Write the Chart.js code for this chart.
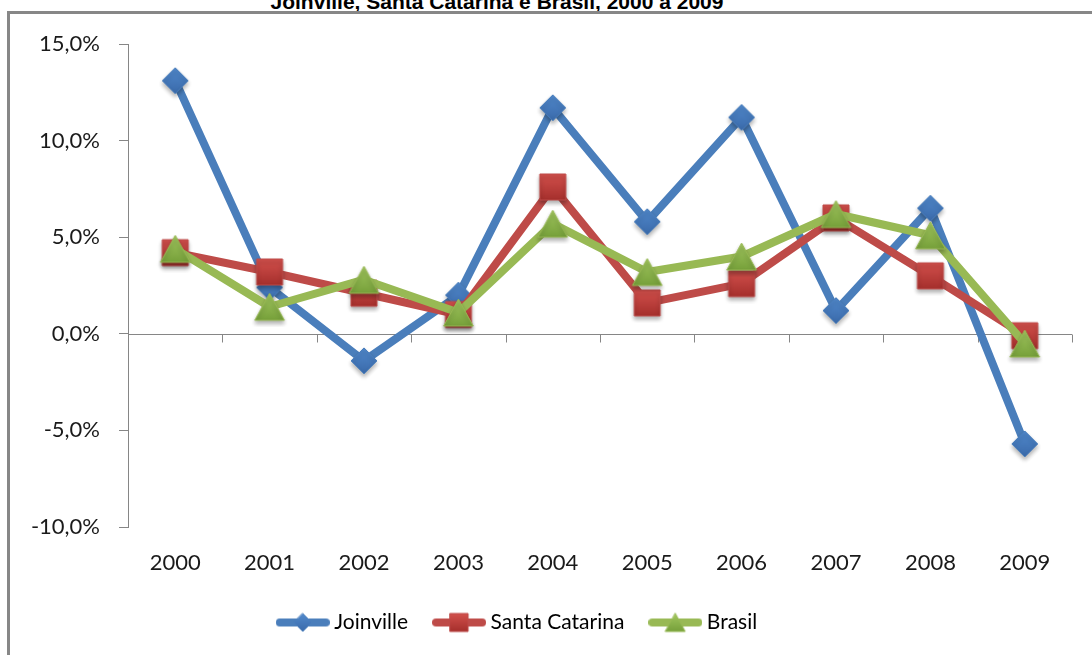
<!DOCTYPE html>
<html>
<head>
<meta charset="utf-8">
<title>Joinville, Santa Catarina e Brasil, 2000 a 2009</title>
<script src="https://cdn.jsdelivr.net/npm/chart.js@4.4.0/dist/chart.umd.min.js"></script>
<style>
    html, body { margin: 0; padding: 0; background: #fff; overflow: hidden; }
    #wrap { position: relative; width: 1092px; height: 655px; }
    #titulo {
        position: absolute; left: 0; top: -10px; width: 994px;
        text-align: center; white-space: nowrap; color: #000;
        font: bold 21px "Liberation Sans", Arial, sans-serif;
    }
    #borda {
        position: absolute; left: 7px; top: 11px; right: 0; bottom: 0;
        border-left: 3px solid #878787; border-top: 3px solid #878787;
    }
    canvas { position: absolute; left: 0; top: 0; }
</style>
</head>
<body>
<div id="wrap">
    <div id="titulo">Joinville, Santa Catarina e Brasil, 2000 a 2009</div>
    <div id="borda"></div>
    <canvas id="grafico" width="1092" height="655"></canvas>
</div>
<script>
// Dados (% ao ano)
const anos = ['2000', '2001', '2002', '2003', '2004', '2005', '2006', '2007', '2008', '2009'];
const joinville = [13.1, 2.4, -1.4, 2.0, 11.7, 5.8, 11.2, 1.2, 6.5, -5.7];
const santaCatarina = [4.2, 3.2, 2.1, 1.0, 7.6, 1.6, 2.6, 6.0, 3.0, -0.1];
const brasil = [4.4, 1.4, 2.8, 1.1, 5.7, 3.2, 4.0, 6.2, 5.1, -0.5];
const nomes = ['Joinville', 'Santa Catarina', 'Brasil'];
const escalaY = [-10, 15, 5]; // min, max, passo

// Cores (estilo Excel 2007)
const corLinha = ['#4a7ebb', '#be4b48', '#98b954'];
const corTopo = ['#5189cc', '#d2504c', '#a2c75f'];
const corBase = ['#3a6aaa', '#a52f2c', '#76a03a'];
const tipos = ['losango', 'quadrado', 'triangulo'];

Chart.defaults.font.family = 'Lato, "Open Sans", sans-serif';
Chart.defaults.color = '#1a1a1a';

// Desenha o marcador (centro da caixa no ponto, como no Excel)
function desenharMarcador(ctx, i, cx, cy, s) {
    const g = ctx.createLinearGradient(0, cy - s, 0, cy + s);
    g.addColorStop(0, corTopo[i]);
    g.addColorStop(1, corBase[i]);
    ctx.fillStyle = g;
    ctx.strokeStyle = corLinha[i];
    ctx.lineWidth = 1;
    ctx.beginPath();
    if (tipos[i] === 'losango') {
        ctx.moveTo(cx, cy - s); ctx.lineTo(cx + s, cy);
        ctx.lineTo(cx, cy + s); ctx.lineTo(cx - s, cy);
    } else if (tipos[i] === 'quadrado') {
        ctx.rect(cx - s, cy - s, 2 * s, 2 * s);
    } else {
        ctx.moveTo(cx, cy - s); ctx.lineTo(cx + s * 1.1, cy + s);
        ctx.lineTo(cx - s * 1.1, cy + s);
    }
    ctx.closePath();
    ctx.fill();
    ctx.stroke();
}

// Marcador com sombra suave (a caixa fica centrada no ponto)
function marcador(i, s) {
    const c = document.createElement('canvas');
    c.width = Math.ceil(s * 2.4 + 10);
    c.height = Math.ceil(s * 2 + 14);
    const ctx = c.getContext('2d');
    ctx.shadowColor = 'rgba(0, 0, 0, 0.3)';
    ctx.shadowBlur = 4;
    ctx.shadowOffsetY = 3;
    desenharMarcador(ctx, i, c.width / 2, c.height / 2, s);
    return c;
}

function marcadorLegenda(i) {
    const c = document.createElement('canvas');
    c.width = 54; c.height = 24;
    const ctx = c.getContext('2d');
    ctx.strokeStyle = corLinha[i];
    ctx.lineWidth = 8;
    ctx.lineCap = 'round';
    ctx.beginPath();
    ctx.moveTo(4, 12); ctx.lineTo(50, 12);
    ctx.stroke();
    desenharMarcador(ctx, i, 27, 12, 9);
    return c;
}

const tamanhos = [13, 13, 13.5];
const pontos = nomes.map((n, i) => marcador(i, tamanhos[i]));
const legendas = nomes.map((n, i) => marcadorLegenda(i));

// Linha do zero com marcas entre categorias
const linhaZero = {
    id: 'linhaZero',
    beforeDatasetsDraw(chart) {
        const { ctx, chartArea, scales: { x, y } } = chart;
        const y0 = Math.round(y.getPixelForValue(0)) + 0.5;
        const passo = x.getPixelForValue(1) - x.getPixelForValue(0);
        ctx.save();
        ctx.strokeStyle = '#868686';
        ctx.lineWidth = 1;
        ctx.beginPath();
        ctx.moveTo(chartArea.left, y0);
        ctx.lineTo(chartArea.right, y0);
        for (let i = 0; i < anos.length; i++) {
            const px = Math.round(x.getPixelForValue(i) + passo / 2) + 0.5;
            ctx.moveTo(px, y0);
            ctx.lineTo(px, y0 + 8);
        }
        ctx.stroke();
        ctx.restore();
    }
};

const valores = [joinville, santaCatarina, brasil];

new Chart(document.getElementById('grafico'), {
    type: 'line',
    data: {
        labels: anos,
        datasets: nomes.map((nome, i) => ({
            label: nome,
            data: valores[i],
            borderColor: corLinha[i],
            backgroundColor: corLinha[i],
            borderWidth: 8,
            borderCapStyle: 'round',
            borderJoinStyle: 'round',
            pointStyle: pontos[i],
            pointRadius: 12,
            tension: 0,
            fill: false,
            order: 3 - i
        }))
    },
    options: {
        responsive: false,
        animation: false,
        layout: { padding: { left: -36, right: 17, top: 44, bottom: 12 } },
        plugins: {
            tooltip: { enabled: false },
            legend: {
                position: 'bottom',
                labels: {
                    usePointStyle: true,
                    pointStyleWidth: 42,
                    padding: 30,
                    color: '#000',
                    font: { size: 21 },
                    generateLabels: (chart) => chart.data.datasets.map((ds, i) => ({
                        text: ds.label,
                        pointStyle: legendas[i],
                        fillStyle: corLinha[i],
                        strokeStyle: corLinha[i],
                        lineWidth: 0,
                        hidden: false,
                        datasetIndex: i
                    }))
                }
            }
        },
        scales: {
            x: {
                offset: true,
                grid: { display: false, drawTicks: false, offset: true },
                border: { display: false },
                ticks: { padding: 23, font: { size: 22 }, color: '#1a1a1a' },
                afterFit: (scale) => { scale.height = 55; }
            },
            y: {
                min: escalaY[0],
                max: escalaY[1],
                ticks: {
                    stepSize: escalaY[2],
                    padding: 19,
                    font: { size: 22 },
                    color: '#1a1a1a',
                    callback: (v) => v.toFixed(1).replace('.', ',') + '%'
                },
                grid: { drawOnChartArea: false, drawTicks: true, tickLength: 9, color: '#868686' },
                border: { display: true, color: '#868686', width: 1 },
                afterFit: (scale) => { scale.width = 164; }
            }
        }
    },
    plugins: [linhaZero]
});
</script>
</body>
</html>
